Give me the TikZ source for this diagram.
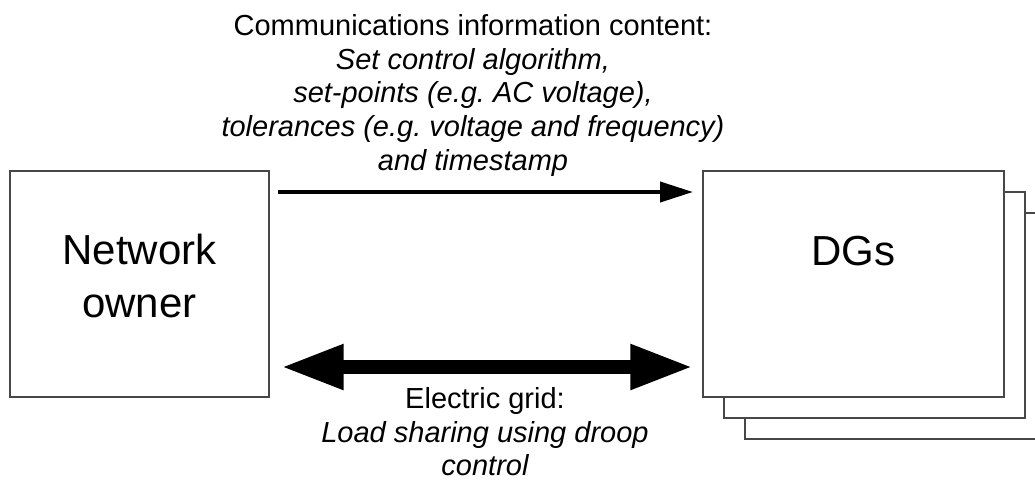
\documentclass[tikz,border=0pt]{standalone}
\usepackage{fontspec}
\setmainfont{Liberation Sans}
\usetikzlibrary{arrows.meta}
\frenchspacing
\begin{document}
\begin{tikzpicture}[x=0.75pt,y=-0.75pt,
  box/.style={draw=black!72,line width=0.8pt,fill=white,inner sep=0pt,outer sep=0pt,minimum height=169.5pt},
  nbox/.style={box,minimum width=194.25pt},
  dbox/.style={box,minimum width=225.75pt},
  bigtext/.style={font=\fontsize{31.5pt}{39.75pt}\selectfont,align=center,inner sep=0pt},
  lbl/.style={font=\fontsize{21.75pt}{25.3pt}\selectfont,align=center,inner sep=0pt,anchor=north},
  comm/.style={line width=3pt,-{Triangle[length=24.75pt,width=15pt]}},
  grid/.style={line width=10.5pt,{Triangle[length=47pt,width=31.5pt]}-{Triangle[length=47pt,width=31.5pt]}}]
\useasboundingbox (0,0) rectangle (1035,480);
\clip (0,0) rectangle (1035,480);
\fill[white] (0,0) rectangle (1035,480);
% boxes
\node[nbox] (no) at (139.5,284) {};
\node[dbox] (dg3) at (895.5,326) {};
\node[dbox] (dg2) at (874.5,305) {};
\node[dbox] (dg) at (853.5,284) {};
\node[bigtext] (notxt) at (139.5,276) {Network\\owner};
\node[bigtext] (dgtxt) at (853.5,251) {DGs};
% connectors
\draw[comm] ([xshift=6.75pt,yshift=-15.75pt]no.north east) -- ([xshift=-7.5pt,yshift=-15.75pt]dg.north west);
\draw[grid] ([xshift=9pt,yshift=22.5pt]no.south east) -- ([xshift=-7.5pt,yshift=22.5pt]dg.south west);
% labels
\node[lbl] (top) at (473,14) {Communications information content:\\\itshape Set control algorithm,\\\itshape set-points (e.g. AC voltage),\\\itshape tolerances (e.g. voltage and frequency)\\\itshape and timestamp};
\node[lbl] (bot) at (485,387) {Electric grid:\\\itshape Load sharing using droop\\\itshape control};
\end{tikzpicture}
\end{document}
